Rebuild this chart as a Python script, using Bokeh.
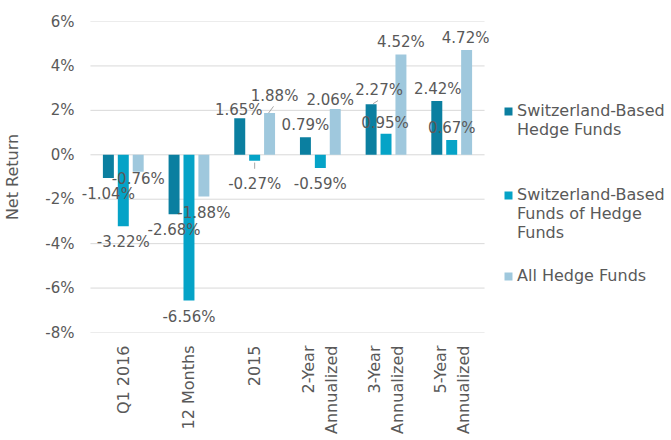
import math
from bokeh.plotting import figure
from bokeh.layouts import row
from bokeh.models import (ColumnDataSource, FactorRange, FixedTicker, PrintfTickFormatter,
                          Legend, LegendItem, Range1d)
from bokeh.transform import dodge
from bokeh.core.properties import value
from bokeh.embed import file_html
from bokeh.resources import INLINE

# ---- data ----
categories = ["Q1 2016", "12 Months", "2015",
              "2-Year\nAnnualized", "3-Year\nAnnualized", "5-Year\nAnnualized"]
swiss_hf = [-1.04, -2.68, 1.65, 0.79, 2.27, 2.42]
swiss_fohf = [-3.22, -6.56, -0.27, -0.59, 0.95, 0.67]
all_hf = [-0.76, -1.88, 1.88, 2.06, 4.52, 4.72]
series_names = ["Switzerland-Based\nHedge Funds",
                "Switzerland-Based\nFunds of Hedge\nFunds",
                "All Hedge Funds"]
y_ticks = [-8, -6, -4, -2, 0, 2, 4, 6]

# ---- styles / label placement (pixel offsets) ----
colors = ["#0B7FA0", "#05A3C7", "#9FC8DD"]
offsets = [-0.227, 0.0, 0.227]
bar_w = 0.167
CAT_PX = 66.0           # pixels per category
PAD_PX = 10.0           # extra frame room so labels are not clipped
label_dx = [[0, 0, -1, 0, 8, 1],
            [0, 0, 0, 0, -1, 0],
            [0, 0, 5, -5, 0, -1]]
label_dy = [[16, 16, -8, -12, -14, -12.5],
            [16, 16, 23, 16, -11, -11.5],
            [7, 16, -17.5, -9.5, -12, -11.5]]
TXT = "#595959"
FONT = "DejaVu Sans"

p = figure(width=494, height=440,
           x_range=FactorRange(*categories, range_padding=PAD_PX / CAT_PX,
                               range_padding_units="absolute"),
           y_range=Range1d(-8, 6),
           output_backend="svg", toolbar_location=None,
           min_border_left=78, min_border_right=0, min_border_top=21, min_border_bottom=108)
p.outline_line_color = None
p.background_fill_color = "white"
p.border_fill_color = "white"

# horizontal gridlines spanning exactly the categories
n = len(categories)
p.segment(x0=[0] * len(y_ticks), x1=[n] * len(y_ticks), y0=y_ticks, y1=y_ticks,
          line_color="#D9D9D9", line_width=1)

series = [swiss_hf, swiss_fohf, all_hf]
sources = []
for k, vals in enumerate(series):
    src = ColumnDataSource(dict(
        cat=categories, val=vals,
        txt=[f"{v:.2f}%" for v in vals],
        dx=label_dx[k], dy=label_dy[k]))
    sources.append(src)
    p.vbar(x=dodge("cat", offsets[k], range=p.x_range), top="val", bottom=0,
           width=bar_w, source=src, fill_color=colors[k], line_color=None)

# leader lines (computed from values)
i2015 = 2
i3y = 4
lx0 = [i2015 + 0.5 + offsets[1], i2015 + 0.5 + offsets[2] - 0.015, i3y + 0.5 + offsets[0] + 0.03]
lx1 = [i2015 + 0.5 + offsets[1], i2015 + 0.5 + offsets[2] + 0.06, i3y + 0.5 + offsets[0] + 0.105]
ly0 = [swiss_fohf[i2015] - 0.08, all_hf[i2015], swiss_hf[i3y] + 0.03]
ly1 = [swiss_fohf[i2015] - 0.36, all_hf[i2015] + 0.3, swiss_hf[i3y] + 0.17]
p.segment(x0=lx0, y0=ly0, x1=lx1, y1=ly1, line_color="#A6A6A6", line_width=1)

for k, src in enumerate(sources):
    p.text(x=dodge("cat", offsets[k], range=p.x_range), y="val", text="txt",
           x_offset="dx", y_offset="dy", source=src,
           text_font=value(FONT), text_font_size="15px", text_color=TXT,
           text_align="center", text_baseline="middle")

# axes
p.grid.visible = False

p.yaxis.ticker = FixedTicker(ticks=y_ticks)
p.yaxis.formatter = PrintfTickFormatter(format="%d%%")
p.yaxis.axis_line_color = None
p.yaxis.major_tick_line_color = None
p.yaxis.minor_tick_line_color = None
p.yaxis.major_tick_in = 0
p.yaxis.major_tick_out = 0
p.yaxis.major_label_standoff = 6
p.yaxis.major_label_text_font = FONT
p.yaxis.major_label_text_font_size = "15px"
p.yaxis.major_label_text_color = TXT
p.yaxis.axis_label = "Net Return"
p.yaxis.axis_label_text_font = FONT
p.yaxis.axis_label_text_font_size = "16px"
p.yaxis.axis_label_text_font_style = "normal"
p.yaxis.axis_label_text_color = TXT
p.yaxis.axis_label_standoff = 20

p.xaxis.axis_line_color = None
p.xaxis.major_tick_line_color = None
p.xaxis.major_tick_in = 0
p.xaxis.major_tick_out = 0
p.xaxis.major_label_orientation = math.pi / 2
p.xaxis.major_label_standoff = 13
p.xaxis.major_label_text_align = "center"
p.xaxis.major_label_text_font = FONT
p.xaxis.major_label_text_font_size = "16px"
p.xaxis.major_label_text_color = TXT

# ---- legend panel (separate figure to the right) ----
q = figure(width=177, height=440, x_range=Range1d(0, 1), y_range=Range1d(0, 1),
           output_backend="svg", toolbar_location=None,
           min_border=0, min_border_left=0, min_border_right=0, min_border_top=0, min_border_bottom=0)
q.axis.visible = False
q.grid.visible = False
q.outline_line_color = None
q.background_fill_color = "white"
q.border_fill_color = "white"
# padding lines so that each swatch sits on the first text line
leg_labels = ["\u00a0\n" + series_names[0],
              "\u00a0\n\u00a0\n" + series_names[1],
              series_names[2]]
leg_pos = [(9, 193), (9, 90), (9, 47)]
for k in range(3):
    dummy = ColumnDataSource(dict(x=[5.0], top=[5.0]))   # off-screen, only feeds the legend swatch
    r = q.vbar(x="x", top="top", bottom=4.9, width=0.1, source=dummy,
               fill_color=colors[k], line_color=None)
    lg = Legend(items=[LegendItem(label=leg_labels[k], renderers=[r])],
                location=leg_pos[k], padding=0, margin=0, spacing=0,
                border_line_color=None, background_fill_alpha=0,
                glyph_width=10, glyph_height=10, label_standoff=4,
                label_text_font=FONT, label_text_font_size="16px",
                label_text_color=TXT, label_height=10)
    q.add_layout(lg, "center")

layout = row(p, q, spacing=0)
open("out.html", "w").write(file_html(layout, INLINE))
